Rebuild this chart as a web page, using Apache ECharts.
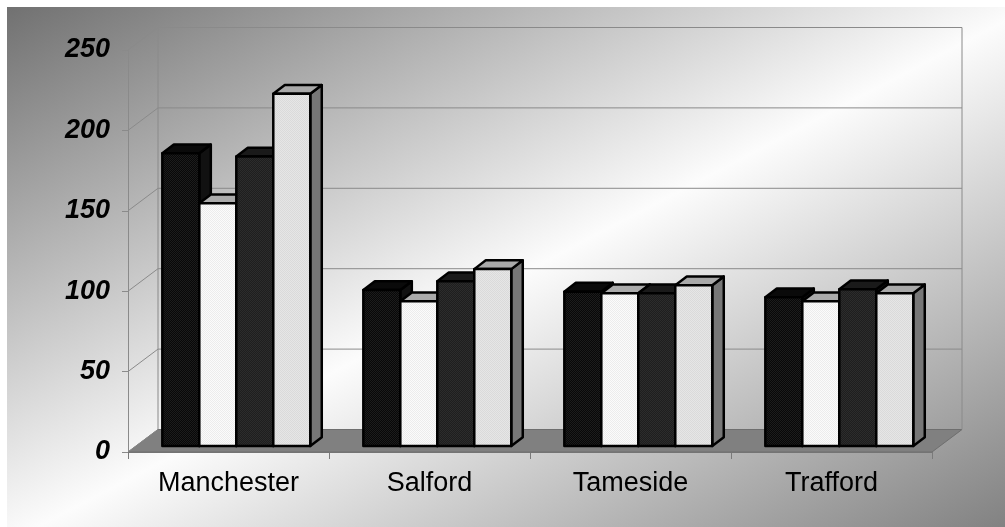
<!DOCTYPE html>
<html>
<head>
<meta charset="utf-8">
<script src="https://cdn.jsdelivr.net/npm/echarts@6/dist/echarts.min.js"></script>
<style>
  html, body { margin: 0; padding: 0; background: #fff; }
  #chart { width: 1005px; height: 527px; }
</style>
</head>
<body>
<div id="chart"></div>
<script>
// Boroughs and the four series plotted for each
const categories = ['Manchester', 'Salford', 'Tameside', 'Trafford'];
const series1 = [182, 97, 96, 92.5];
const series2 = [151, 90, 95, 90];
const series3 = [180, 102.5, 95, 97.5];
const series4 = [219, 110, 100, 95];
const yTicks = [0, 50, 100, 150, 200, 250];

// 3D look: wall depth offset and bar placement inside that depth (pixels)
const WALL_DX = 30, WALL_DY = -22.5;
const FRONT_DX = 7.8, FRONT_DY = -6;
const BAR_DX = 11.5, BAR_DY = -8.8;
const BAR_FRAC = 0.184;

function dither(base, dot) {
  const c = document.createElement('canvas');
  c.width = 2; c.height = 2;
  const g = c.getContext('2d');
  g.fillStyle = base; g.fillRect(0, 0, 2, 2);
  g.fillStyle = dot; g.fillRect(0, 0, 1, 1); g.fillRect(1, 1, 1, 1);
  return { image: c, repeat: 'repeat' };
}

const barStyles = [
  { front: dither('#080808', '#1c1c1c'), top: '#0a0a0a', side: '#111111' },
  { front: dither('#fbfbfb', '#ececec'), top: '#ababab', side: '#9a9a9a' },
  { front: dither('#1e1e1e', '#2c2c2c'), top: '#1a1a1a', side: '#141414' },
  { front: dither('#e6e6e6', '#dadada'), top: '#a9a9a9', side: '#777777' }
];

function barRenderer(sIdx) {
  const st = barStyles[sIdx];
  return function (params, api) {
    const cat = api.value(0), v = api.value(1);
    const base = api.coord([cat, 0]);
    const topP = api.coord([cat, v]);
    const w = api.size([1, 0])[0] * BAR_FRAC;
    const cx = base[0] + (sIdx - 1.5) * w + FRONT_DX;
    const x0 = cx - w / 2, x1 = cx + w / 2;
    const yb = base[1] + FRONT_DY, yt = topP[1] + FRONT_DY;
    const line = { stroke: '#000', lineWidth: 2.5, lineJoin: 'round' };
    return {
      type: 'group',
      children: [
        { type: 'polygon', shape: { points: [[x1, yt], [x1 + BAR_DX, yt + BAR_DY], [x1 + BAR_DX, yb + BAR_DY], [x1, yb]] },
          style: Object.assign({ fill: st.side }, line) },
        { type: 'polygon', shape: { points: [[x0, yt], [x1, yt], [x1 + BAR_DX, yt + BAR_DY], [x0 + BAR_DX, yt + BAR_DY]] },
          style: Object.assign({ fill: st.top }, line) },
        { type: 'rect', shape: { x: x0, y: yt, width: w, height: yb - yt },
          style: Object.assign({ fill: st.front }, line) }
      ]
    };
  };
}

// Floor, left wall diagonals and back wall gridlines
function frameRenderer(params, api) {
  const cs = params.coordSys;
  const v = api.value(1);
  const y = api.coord([0, v])[1];
  const xl = cs.x, xr = cs.x + cs.width;
  const grey = { stroke: '#8a8a8a', lineWidth: 1 };
  const children = [];
  if (v === 0) {
    const yTop = api.coord([0, yTicks[yTicks.length - 1]])[1];
    children.push({ type: 'polygon', shape: { points: [[xl, y], [xr, y], [xr + WALL_DX, y + WALL_DY], [xl + WALL_DX, y + WALL_DY]] },
      style: { fill: '#808080', stroke: '#6e6e6e', lineWidth: 1 } });
    children.push({ type: 'line', shape: { x1: xl + WALL_DX, y1: y + WALL_DY, x2: xl + WALL_DX, y2: yTop + WALL_DY }, style: grey });
    children.push({ type: 'line', shape: { x1: xr + WALL_DX, y1: y + WALL_DY, x2: xr + WALL_DX, y2: yTop + WALL_DY }, style: grey });
  } else {
    children.push({ type: 'line', shape: { x1: xl + WALL_DX, y1: y + WALL_DY, x2: xr + WALL_DX, y2: y + WALL_DY }, style: grey });
  }
  children.push({ type: 'line', shape: { x1: xl, y1: y, x2: xl + WALL_DX, y2: y + WALL_DY }, style: grey });
  return { type: 'group', children: children };
}

const chart = echarts.init(document.getElementById('chart'));
const allSeries = [series1, series2, series3, series4];

const option = {
  backgroundColor: '#ffffff',
  animation: false,
  graphic: [{
    type: 'rect', z: -100, silent: true,
    shape: { x: 7, y: 7, width: 998, height: 520 },
    style: {
      fill: new echarts.graphic.LinearGradient(286, -150, 718, 676, [
        { offset: 0, color: '#6e6e6e' },
        { offset: 0.52, color: '#fcfcfc' },
        { offset: 1, color: '#828282' }
      ], true)
    }
  }],
  grid: { left: 128, right: 73, top: 50, bottom: 75 },
  xAxis: {
    type: 'category',
    data: categories,
    axisLine: { show: true, lineStyle: { color: '#7a7a7a', width: 1 } },
    axisTick: { show: true, length: 7, lineStyle: { color: '#7a7a7a' } },
    axisLabel: { color: '#000', fontSize: 27, margin: 18, fontFamily: '"Liberation Sans", Arial, sans-serif' },
    splitLine: { show: false }
  },
  yAxis: {
    type: 'value',
    min: 0, max: 250, interval: 50,
    axisLine: { show: true, lineStyle: { color: '#8a8a8a', width: 1 } },
    axisTick: { show: true, length: 6, lineStyle: { color: '#8a8a8a' } },
    axisLabel: { color: '#000', fontSize: 27, fontWeight: 'bold', fontStyle: 'italic', margin: 18,
      fontFamily: '"Liberation Sans", Arial, sans-serif' },
    splitLine: { show: false }
  },
  series: [{
    type: 'custom',
    name: 'frame',
    silent: true,
    clip: false,
    renderItem: frameRenderer,
    encode: { x: 0, y: 1 },
    data: yTicks.map(function (t) { return [0, t]; }),
    z: 1
  }].concat(allSeries.map(function (vals, s) {
    return {
      type: 'custom',
      name: 'Series ' + (s + 1),
      clip: false,
      renderItem: barRenderer(s),
      encode: { x: 0, y: 1 },
      data: vals.map(function (v, i) { return [i, v]; }),
      z: 3
    };
  }))
};

chart.setOption(option);
</script>
</body>
</html>
